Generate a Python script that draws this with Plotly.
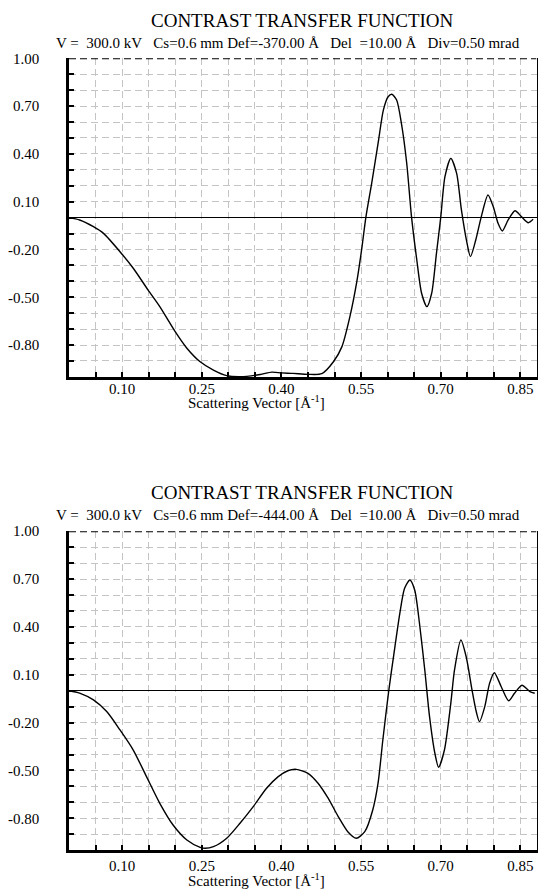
import plotly.graph_objects as go

# ---------------- data ----------------
x_top = [0.0, 0.02, 0.046, 0.065, 0.096, 0.121, 0.149, 0.171, 0.200, 0.222,
         0.247, 0.272, 0.297, 0.322, 0.360, 0.382, 0.400, 0.422, 0.450, 0.476,
         0.498, 0.514, 0.529, 0.542, 0.551, 0.559, 0.570, 0.583, 0.592, 0.601,
         0.608, 0.617, 0.626, 0.636, 0.645, 0.655, 0.664, 0.674, 0.683, 0.692,
         0.700, 0.708, 0.719, 0.730, 0.739, 0.749, 0.756, 0.766, 0.776, 0.789,
         0.799, 0.808, 0.816, 0.827, 0.840, 0.852, 0.865, 0.874]
y_top = [0.0, -0.015, -0.057, -0.099, -0.214, -0.318, -0.455, -0.559, -0.716, -0.820,
         -0.905, -0.957, -0.992, -0.999, -0.985, -0.970, -0.975, -0.978, -0.984, -0.980,
         -0.905, -0.810, -0.622, -0.402, -0.203, 0.0, 0.215, 0.487, 0.675, 0.759,
         0.774, 0.738, 0.592, 0.341, 0.006, -0.266, -0.475, -0.559, -0.475, -0.224,
         0.0, 0.257, 0.372, 0.278, 0.048, -0.151, -0.245, -0.141, 0.0, 0.142,
         0.068, -0.036, -0.084, -0.015, 0.043, 0.006, -0.032, -0.011]

x_bot = [0.0, 0.02, 0.046, 0.071, 0.096, 0.121, 0.146, 0.171, 0.196, 0.222,
         0.247, 0.256, 0.272, 0.297, 0.322, 0.347, 0.372, 0.394, 0.412, 0.428,
         0.450, 0.469, 0.488, 0.507, 0.525, 0.541, 0.557, 0.572, 0.582, 0.591,
         0.602, 0.612, 0.623, 0.632, 0.642, 0.651, 0.660, 0.670, 0.679, 0.689,
         0.696, 0.707, 0.719, 0.726, 0.738, 0.748, 0.759, 0.767, 0.773, 0.783,
         0.792, 0.801, 0.814, 0.828, 0.839, 0.853, 0.868, 0.877]
y_bot = [0.0, -0.015, -0.058, -0.131, -0.246, -0.372, -0.539, -0.706, -0.842, -0.936,
         -0.982, -0.988, -0.978, -0.925, -0.831, -0.727, -0.612, -0.539, -0.502, -0.493,
         -0.518, -0.580, -0.674, -0.789, -0.884, -0.925, -0.884, -0.748, -0.580, -0.309,
         -0.004, 0.234, 0.485, 0.642, 0.694, 0.631, 0.423, 0.130, -0.163, -0.392,
         -0.480, -0.372, -0.079, 0.130, 0.318, 0.213, 0.004, -0.132, -0.194, -0.100,
         0.046, 0.113, 0.025, -0.063, -0.016, 0.034, -0.006, -0.016]

x_tickvals = [0.10, 0.25, 0.40, 0.55, 0.70, 0.85]
x_ticktext = ["0.10", "0.25", "0.40", "0.55", "0.70", "0.85"]
y_tickvals = [1.0, 0.7, 0.4, 0.1, -0.2, -0.5, -0.8]
y_ticktext = ["1.00", "0.70", "0.40", "0.10", "-0.20", "-0.50", "-0.80"]

title_text = "CONTRAST TRANSFER FUNCTION"
sub_top = "V =\u00a0 300.0 kV\u00a0\u00a0 Cs=0.6 mm Def=-370.00 Å\u00a0\u00a0 Del\u00a0 =10.00 Å\u00a0\u00a0 Div=0.50 mrad"
sub_bot = "V =\u00a0 300.0 kV\u00a0\u00a0 Cs=0.6 mm Def=-444.00 Å\u00a0\u00a0 Del\u00a0 =10.00 Å\u00a0\u00a0 Div=0.50 mrad"
x_title = "Scattering Vector [Å<sup>-1</sup>]"

# ---------------- layout helpers ----------------
W, H = 538, 894
FONT = "Liberation Serif"
GRID = "#c4c4c4"
DASH = "7px,4px"


def px_x(p):
    return p / W


def px_y(p):
    return 1 - p / H


XR = [0, 0.8804]
x_dom = [px_x(69), px_x(536.5)]
top_dom = [px_y(376.9), px_y(58.3)]
bot_dom = [px_y(850.2), px_y(531.2)]


def xaxis_cfg(anchor, standoff):
    return dict(
        domain=x_dom, range=XR, anchor=anchor,
        tickmode="array", tickvals=x_tickvals, ticktext=x_ticktext,
        ticks="inside", ticklen=5, tickwidth=1.5, tickcolor="black",
        ticklabelstandoff=standoff,
        showline=True, linecolor="black", linewidth=2.5, mirror=False,
        showgrid=True, gridcolor=GRID, griddash=DASH, gridwidth=1,
        zeroline=False, automargin=False,
        tickfont=dict(family=FONT, size=15, color="black"),
        minor=dict(tick0=0, dtick=0.05, ticks="inside", ticklen=5, tickwidth=1.5,
                   tickcolor="black", showgrid=True, gridcolor=GRID, griddash=DASH,
                   gridwidth=1),
    )


def yaxis_cfg(anchor):
    return dict(
        domain=top_dom if anchor == "x" else bot_dom, range=[-1, 1], anchor=anchor,
        tickmode="array", tickvals=y_tickvals, ticktext=y_ticktext,
        ticks="inside", ticklen=5, tickwidth=1.5, tickcolor="black",
        ticklabelstandoff=24,
        showline=True, linecolor="black", linewidth=2.5, mirror=True,
        showgrid=True, gridcolor=GRID, griddash=DASH, gridwidth=1,
        zeroline=True, zerolinecolor="black", zerolinewidth=1.2, automargin=False,
        tickfont=dict(family=FONT, size=15, color="black"),
        minor=dict(tick0=0, dtick=0.1, ticks="inside", ticklen=5, tickwidth=1.5,
                   tickcolor="black", showgrid=True, gridcolor=GRID, griddash=DASH,
                   gridwidth=1),
    )


fig = go.Figure()
fig.add_trace(go.Scatter(x=x_top, y=y_top, mode="lines", xaxis="x", yaxis="y",
                         line=dict(color="black", width=1.4, shape="spline", smoothing=0.7),
                         showlegend=False, hoverinfo="skip"))
fig.add_trace(go.Scatter(x=x_bot, y=y_bot, mode="lines", xaxis="x2", yaxis="y2",
                         line=dict(color="black", width=1.4, shape="spline", smoothing=0.7),
                         showlegend=False, hoverinfo="skip"))

annotations = []
for ty, sy, ay, sub in [(20, 43, 402, sub_top), (492, 515, 880, sub_bot)]:
    annotations.append(dict(text=title_text, x=px_x(302), y=px_y(ty), xref="paper", yref="paper",
                            xanchor="center", yanchor="middle", showarrow=False,
                            font=dict(family=FONT, size=19, color="black")))
    annotations.append(dict(text=sub, x=px_x(288), y=px_y(sy), xref="paper", yref="paper",
                            xanchor="center", yanchor="middle", showarrow=False,
                            font=dict(family=FONT, size=15, color="black")))
    annotations.append(dict(text=x_title, x=px_x(256), y=px_y(ay), xref="paper", yref="paper",
                            xanchor="center", yanchor="middle", showarrow=False,
                            font=dict(family=FONT, size=15, color="black")))

shapes = []
for xr, yr in [("x", "y"), ("x2", "y2")]:
    shapes.append(dict(type="line", xref=xr, yref=yr, x0=XR[0], x1=XR[1], y0=1, y1=1,
                       line=dict(color="black", width=2, dash=DASH)))

fig.update_layout(
    width=W, height=H, autosize=False,
    margin=dict(l=0, r=0, t=0, b=0, pad=0, autoexpand=False),
    paper_bgcolor="white", plot_bgcolor="white",
    xaxis=xaxis_cfg("y", -4),
    yaxis=yaxis_cfg("x"),
    xaxis2=xaxis_cfg("y2", 0),
    yaxis2=yaxis_cfg("x2"),
    annotations=annotations,
    shapes=shapes,
    showlegend=False,
)

fig.write_html(
    "out.html",
    config={"displayModeBar": False},
    post_script="document.body.style.margin='0px';document.body.style.padding='0px';"
                "document.body.style.overflow='hidden';",
)
